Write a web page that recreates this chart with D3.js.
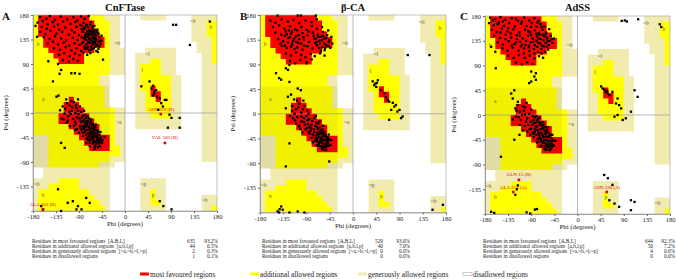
<!DOCTYPE html>
<html><head><meta charset="utf-8">
<script src="https://cdn.jsdelivr.net/npm/d3@7"></script>
<style>body{margin:0;background:#fff}svg{display:block}text{white-space:pre}</style>
</head><body><svg id="c" width="676" height="279"></svg>
<script>
// ---------- DATA ----------
const phiTicks=[-180,-135,-90,-45,0,45,90,135,180];
const psiTicks=[-135,-90,-45,0,45,90,135,180];
const panelTitles=["CnFTase","β-CA","AdSS"];
const panelLetters=["A","B","C"];
const statLabels=["Residues in most favoured regions  [A,B,L]","Residues in additional allowed regions  [a,b,l,p]","Residues in generously allowed regions  [~a,~b,~l,~p]","Residues in disallowed regions"];
const countsA=[635,44,2,1], pctA=["93.2%","6.5%","0.3%","0.1%"];
const countsB=[529,40,0,0], pctB=["93.0%","7.0%","0.0%","0.0%"];
const countsC=[644,50,4,0], pctC=["92.3%","7.2%","0.6%","0.0%"];
const legendLabels=["most favoured regions","additional allowed regions","generously allowed regions","disallowed regions"];

// region outlines (phi, psi)
const coreBeta=[[-170,180],[-70,180],[-70,170],[-60,170],[-60,150],[-50,150],[-50,140],[-40,140],[-40,120],[-60,120],[-60,110],[-80,110],[-80,90],[-130,90],[-130,100],[-140,100],[-140,110],[-150,110],[-150,120],[-160,120],[-160,140],[-170,140]];
const coreAlpha=[[-110,30],[-100,30],[-100,20],[-90,20],[-90,10],[-80,10],[-80,0],[-70,0],[-70,-10],[-60,-10],[-60,-20],[-50,-20],[-50,-40],[-30,-40],[-30,-70],[-70,-70],[-70,-60],[-80,-60],[-80,-50],[-90,-50],[-90,-40],[-100,-40],[-100,-30],[-110,-30],[-110,-20],[-130,-20],[-130,0],[-120,0],[-120,20],[-110,20]];
const coreL=[[50,50],[60,50],[60,40],[70,40],[70,20],[60,20],[60,30],[50,30]];
const allowedMain=[[-180,180],[-40,180],[-40,170],[-30,170],[-30,70],[-50,70],[-50,50],[-40,50],[-40,10],[-20,10],[-20,-60],[-10,-60],[-10,-80],[-30,-80],[-30,-90],[-50,-90],[-50,-100],[-150,-100],[-150,-40],[-180,-40]];
const allowedLow=[[-170,-180],[-170,-140],[-150,-140],[-150,-130],[-130,-130],[-130,-120],[-90,-120],[-90,-140],[-70,-140],[-70,-150],[-60,-150],[-60,-160],[-50,-160],[-50,-170],[-40,-170],[-40,-180]];
const allowedL=[[30,90],[50,90],[50,100],[70,100],[70,70],[90,70],[90,-10],[50,-10],[50,0],[40,0],[40,40],[30,40]];
const allowedP=[[50,-140],[60,-140],[60,-160],[70,-160],[70,-170],[50,-170]];
const allowedRight=[[160,170],[180,170],[180,90],[170,90],[170,140],[160,140]];
const allowedCorner=[[170,-170],[180,-170],[180,-180],[170,-180]];
const generousMain=[[-180,180],[-10,180],[-10,120],[0,120],[0,70],[-30,70],[-30,10],[0,10],[0,-90],[-20,-90],[-20,-100],[-30,-100],[-30,-180],[-180,-180],[-180,-120],[-160,-120],[-160,-100],[-180,-100]];
const generousL=[[20,110],[40,110],[40,120],[100,120],[100,70],[110,70],[110,-30],[20,-30]];
const generousP=[[30,-120],[80,-120],[80,-180],[30,-180]];
const generousTop=[[30,180],[80,180],[80,170],[30,170]];
const generousRight=[[130,180],[180,180],[180,-90],[150,-90],[150,110],[140,110],[140,130],[130,130]];
const generousCorner=[[150,-150],[180,-150],[180,-180],[150,-180]];
const regionLabels=[["B",-162,166],["b",-170,127],["~b",-15,128],["a",-160,26],["~a",-12,-16],["l",34,78],["~l",44,108],["~p",36,-130],["p",55,-150],["~b",133,168],["b",168,157],["~b",-173,-130],["b",-160,-150],["~b",156,-160]];

// residues (phi, psi)
const pointsA=[
[-166,176],[-154,173],[-147,178],[-137,171],[-126,177],[-113,172],[-101,176],[-93,170],[-86,177],[-79,173],[-71,178],
[-171,166],[-161,169],[-151,163],[-141,167],[-131,162],[-121,168],[-107,164],[-97,167],[-88,162],[-81,166],[-74,161],[-67,167],
[-163,158],[-153,155],[-139,159],[-129,153],[-117,157],[-104,152],[-95,158],[-85,154],[-78,157],[-70,152],[-64,158],[-58,153],
[-166,149],[-156,145],[-146,151],[-134,146],[-123,149],[-110,144],[-99,148],[-90,143],[-83,149],[-76,146],[-71,143],[-65,148],[-60,144],[-53,147],
[-159,139],[-147,136],[-137,141],[-125,137],[-115,133],[-102,138],[-93,134],[-85,139],[-79,135],[-73,139],[-67,134],[-62,138],[-56,135],[-50,139],[-46,133],
[-151,128],[-141,131],[-131,126],[-120,129],[-109,124],[-99,128],[-89,125],[-82,130],[-76,126],[-70,129],[-64,125],[-59,129],[-54,124],[-48,127],
[-139,119],[-127,116],[-116,121],[-105,115],[-95,119],[-86,114],[-79,118],[-72,121],[-67,116],[-61,119],[-56,114],
[-129,107],[-119,110],[-108,104],[-98,109],[-89,106],[-81,111],[-74,107],[-68,110],
[-122,97],[-110,94],[-101,99],[-92,96],
[-75,145],[-69,150],[-63,141],[-72,131],[-66,122],[-58,132],[-77,140],[-61,151],[-68,137],[-74,118],[-62,127],[-57,142],
[-84,160],[-80,155],[-76,162],[-72,157],[-68,162],[-64,155],[-60,160],[-56,150],[-52,145],[-82,150],[-78,143],[-74,150],[-70,146],[-66,150],[-62,148],[-58,146],[-54,153],[-80,138],[-76,134],[-72,142],[-68,129],[-64,133],[-60,135],[-56,126],[-52,131],[-50,122],[-84,128],[-80,122],[-76,120],[-70,115],[-64,118],[-58,122],[-52,118],[-48,133],[-46,142],[-66,144],[-62,130],[-70,136],[-74,127],[-58,137],
[-175,160],[-172,140],[-150,95],[-131,90],[-125,79],[-128,72],[-105,73],[-98,73],[-141,58],[-89,72],[-53,112],[-43,98],[-134,30],[-130,32],
[-115,25],[-108,14],[-100,20],[-95,9],[-104,4],[-118,-1],[-111,-6],[-101,-11],[-91,-2],[-96,-20],[-87,-14],[-108,-24],[-98,-31],[-90,-36],[-82,-42],[-76,-55],[-69,-61],[-60,-66],[-49,-61],[-44,-50],[-40,-44],[-124,-10],[-127,5],[-88,12],[-80,4],[-125,-55],[-118,-64],[-113,18],[-92,25],
[-122,12],[-117,8],[-112,-14],[-106,-2],[-103,10],[-98,-16],[-94,-8],[-92,4],[-89,-10],[-86,2],[-96,14],[-109,2],[-114,-18],[-100,-24],[-94,-30],[-87,-28],[-120,-12],[-105,22],[-97,0],[-83,-36],
[-84,-8],[-80,-12],[-76,-9],[-72,-14],[-79,-18],[-74,-20],[-68,-19],[-83,-24],[-77,-26],[-71,-25],[-65,-23],[-60,-27],[-74,-31],[-68,-32],[-62,-33],[-56,-31],[-79,-35],[-72,-37],[-66,-39],[-60,-38],[-54,-37],[-50,-40],[-70,-43],[-64,-45],[-58,-44],[-52,-46],[-47,-45],[-67,-50],[-61,-51],[-55,-52],[-49,-51],[-63,-56],[-57,-58],[-51,-56],[-59,-62],[-53,-63],[-86,-17],[-81,-29],[-75,-47],[-69,-55],[-63,-28],[-57,-21],[-85,-31],[-45,-55],[-48,-35],[-66,-12],[-73,-6],[-88,-24],
[-82,-5],[-78,-4],[-76,-15],[-70,-10],[-82,-15],[-78,-22],[-73,-17],[-69,-28],[-67,-16],[-63,-20],[-61,-24],[-58,-26],[-76,-40],[-73,-44],[-70,-38],[-67,-35],[-64,-41],[-62,-47],[-60,-42],[-57,-36],[-55,-41],[-53,-33],[-51,-49],[-55,-48],[-58,-53],[-62,-54],[-65,-43],[-68,-48],[-72,-50],[-77,-32],[-80,-26],[-74,-24],[-66,-28],[-60,-31],[-54,-44],[-50,-54],[-47,-50],[-56,-56],[-64,-36],[-70,-30],
[32,49],[48,58],[55,50],[58,40],[55,32],[61,42],[62,30],[68,27],[71,18],[78,24],[74,12],[81,24],[87,-3],[91,-9],[84,-27],[107,-9],[107,-27],[65,6],[52,45],[57,36],
[94,162],[100,162],[127,125],[166,168],[68,-162],[75,-171],[91,-177],[-164,-171],[-160,-177],[-131,-140],[-112,-165],[-102,-162],[-92,-171],[-76,-156],[-69,-165],[-85,-177],[-95,-177],[-125,-180]];
const flaggedA=[[70,-2,"ASN 229 (B)"],[78,-55,"VAL 500 (B)"],[-161,-178,"ALA 263 (B)"]];

const pointsB=[
[-146,179],[-107,179],[-101,179],[-72,179],
[-160,170],[-150,166],[-138,172],[-126,168],[-115,171],[-104,165],[-92,170],[-80,167],[-70,172],
[-155,158],[-143,161],[-133,155],[-122,159],[-112,154],[-100,158],[-90,153],[-80,160],[-70,155],[-60,158],
[-150,148],[-139,144],[-130,150],[-120,146],[-110,141],[-98,147],[-88,143],[-78,148],[-68,144],[-58,149],[-50,143],
[-145,136],[-135,132],[-125,138],[-116,133],[-106,129],[-95,135],[-85,131],[-75,137],[-65,133],[-56,137],[-47,131],
[-138,124],[-128,120],[-118,126],[-108,121],[-98,117],[-88,123],[-78,119],[-70,125],[-60,121],[-52,125],[-44,120],
[-130,110],[-120,106],[-110,112],[-100,107],[-92,103],[-82,109],[-74,105],[-64,110],[-55,106],
[-122,96],[-112,92],[-102,98],[-90,94],[-80,99],
[-132,142],[-124,152],[-118,128],[-105,143],[-94,124],[-86,150],[-73,129],[-63,140],[-55,116],[-48,152],[-40,128],[-42,140],[-113,118],[-140,128],
[-128,145],[-122,140],[-118,150],[-114,137],[-110,131],[-126,130],[-120,122],[-132,124],[-108,152],[-104,136],[-100,128],[-96,140],
[-76,142],[-72,136],[-68,140],[-64,128],[-60,134],[-56,128],[-52,138],[-48,124],[-58,142],[-66,120],[-62,115],[-54,120],[-46,134],[-70,131],
[-149,74],[-143,65],[-139,62],[-123,58],[-107,46],[-101,43],[-126,31],[-130,83],[-126,80],[-123,89],[-120,35],[-90,92],
[-114,26],[-104,18],[-96,24],[-110,8],[-100,2],[-122,-4],[-112,-12],[-95,-8],[-104,-22],[-92,-28],[-84,-36],[-78,-52],[-70,-58],[-60,-64],[-48,-58],[-42,-48],[-123,-54],[-104,-23],[-46,-87],[-130,-96],[-118,14],[-88,6],[-130,10],
[-118,5],[-113,0],[-108,-6],[-106,12],[-100,-14],[-97,8],[-93,-20],[-90,-4],[-86,0],[-110,-18],[-116,-8],[-102,-28],[-94,14],[-88,-12],[-108,24],[-98,-34],[-84,-24],[-80,-44],
[-85,-10],[-79,-13],[-75,-8],[-71,-16],[-80,-20],[-73,-22],[-67,-18],[-82,-26],[-76,-28],[-70,-24],[-64,-25],[-59,-29],[-75,-33],[-69,-35],[-61,-32],[-55,-34],[-78,-38],[-71,-40],[-65,-37],[-59,-41],[-53,-39],[-49,-43],[-69,-46],[-63,-48],[-57,-46],[-51,-49],[-46,-47],[-66,-53],[-60,-54],[-54,-55],[-48,-53],[-62,-59],[-56,-61],[-50,-58],[-58,-65],[-52,-66],[-87,-19],[-82,-31],[-74,-49],[-68,-57],[-62,-30],[-58,-22],[-86,-33],[-44,-57],[-47,-38],[-65,-14],[-72,-4],[-89,-26],[-95,-15],[-100,-5],
[-72,-44],[-66,-42],[-62,-44],[-58,-50],[-54,-48],[-50,-52],[-64,-52],[-60,-48],[-56,-56],[-52,-60],[-68,-38],[-62,-36],[-56,-40],[-50,-45],[-70,-50],[-66,-58],[-60,-60],[-54,-62],[-48,-48],[-74,-40],[-58,-36],[-64,-32],[-68,-28],[-52,-42],
[38,59],[41,52],[45,49],[48,61],[46,56],[54,43],[61,37],[67,25],[70,22],[77,20],[80,13],[83,16],[74,7],[86,4],[90,7],[96,-5],[93,-8],[70,-11],[43,55],[64,30],
[106,107],[148,107],[-146,-178],[-142,-174],[-139,-169],[-123,-180],[-107,-178],[-94,-180],[-136,-175],[154,-175],[174,-166],[-143,-180]];
const flaggedB=[];

const pointsC=[
[-170,177],[-160,174],[-150,178],[-140,173],[-128,176],[-116,171],[-104,177],[-94,172],[-84,176],[-76,171],
[-172,167],[-163,163],[-153,168],[-143,162],[-133,167],[-122,161],[-110,166],[-99,162],[-89,167],[-80,161],[-72,165],[-64,161],
[-167,155],[-157,151],[-147,157],[-136,152],[-125,156],[-113,150],[-102,155],[-92,150],[-83,154],[-75,149],[-68,155],[-61,150],[-55,156],
[-162,144],[-151,140],[-140,146],[-129,141],[-118,145],[-107,139],[-96,144],[-87,139],[-79,143],[-72,138],[-65,143],[-59,139],[-52,144],[-46,139],
[-155,132],[-145,128],[-134,134],[-123,129],[-112,133],[-101,127],[-91,132],[-83,127],[-76,131],[-69,126],[-62,131],[-56,127],[-49,131],
[-146,121],[-136,117],[-126,122],[-115,117],[-104,121],[-94,116],[-85,120],[-77,115],[-70,120],[-63,115],[-57,119],
[-135,108],[-124,104],[-114,109],[-103,104],[-93,108],[-84,103],[-75,107],[-67,104],
[-120,95],[-108,92],[-98,96],[-88,93],
[-80,135],[-74,146],[-66,136],[-60,124],[-70,112],[-78,124],[-86,133],[-95,123],[-108,128],[-118,138],[-62,147],[-54,135],
[-165,172],[-155,165],[-145,170],[-135,158],[-120,175],[-108,170],[-96,152],[-90,160],[-78,168],[-70,160],[-140,138],[-130,148],[-120,132],[-110,125],[-100,135],[-90,145],[-80,148],[-72,130],[-66,125],[-58,134],[-50,138],[-104,112],[-94,126],[-84,112],[-76,139],[-68,146],[-60,141],[-112,144],[-128,126],[-150,150],
[-168,124],[-159,85],[-90,79],[-81,76],[-84,70],[-90,61],[-94,58],[-81,64],[-123,45],[-129,39],[-126,30],[-160,115],
[-116,24],[-106,16],[-99,22],[-112,6],[-102,1],[-120,-3],[-110,-9],[-98,-6],[-103,-20],[-93,-26],[-85,-34],[-79,-50],[-72,-57],[-62,-63],[-50,-59],[-43,-47],[-126,-8],[-90,10],[-149,-76],[-123,-45],[-113,-36],[-121,12],
[-119,8],[-114,-4],[-108,0],[-104,8],[-100,-12],[-96,-18],[-94,2],[-91,-12],[-87,-2],[-112,-18],[-106,-28],[-98,-30],[-92,-36],[-116,18],[-102,14],[-85,-40],[-80,-2],
[-86,-9],[-81,-14],[-77,-7],[-72,-15],[-79,-21],[-74,-18],[-68,-21],[-83,-25],[-78,-27],[-72,-26],[-66,-24],[-61,-28],[-76,-32],[-70,-33],[-63,-34],[-57,-32],[-80,-36],[-73,-38],[-67,-40],[-61,-39],[-55,-38],[-51,-42],[-71,-44],[-65,-46],[-59,-45],[-53,-47],[-48,-46],[-68,-51],[-62,-52],[-56,-53],[-50,-52],[-64,-57],[-58,-59],[-52,-57],[-60,-63],[-54,-64],[-88,-18],[-83,-30],[-76,-48],[-70,-56],[-64,-29],[-58,-22],[-87,-32],[-46,-56],[-49,-36],[-67,-13],[-74,-5],[-90,-25],
[-83,-4],[-79,-10],[-75,-13],[-70,-19],[-66,-18],[-62,-22],[-60,-33],[-57,-40],[-53,-36],[-64,-40],[-68,-36],[-72,-32],[-74,-42],[-70,-48],[-66,-50],[-62,-46],[-58,-48],[-54,-52],[-50,-48],[-56,-58],[-60,-55],[-64,-62],[-52,-62],[-48,-55],[-78,-44],[-81,-20],[-85,-14],[-69,-25],[-75,-37],[-59,-27],
[46,52],[49,48],[55,42],[59,39],[62,36],[68,42],[78,30],[75,21],[81,18],[85,12],[78,0],[72,-3],[104,6],[111,45],[117,33],[94,-6],[88,-9],[52,46],[58,44],
[86,171],[92,172],[96,170],[118,174],[160,165],[163,160],[52,-109],[59,-115],[68,-127],[62,-155],[72,-161],[81,-167],[104,-173],[104,-155],[111,-158],
[-168,-176],[-162,-178],[-99,-177],[-92,-179],[-83,-172],[-79,-171],[-118,-135],[-116,-128],[-121,-145]];
const flaggedC=[[-114,-118,"GLN 15 (B)"],[-125,-140,"ALA 259 (A)"],[57,-140,"ASN 236 (A)"]];

// ---------- DRAW ----------
const svg=d3.select("#c");
const SERIF="'Liberation Serif','Times New Roman',serif";
const PALE="#f1ebb0", YEL="#ffff00", RED="#ff0000";
const panels=[
 {x0:33,x1:217,y0:15,y1:211,pts:pointsA,flag:flaggedA,counts:countsA,pct:pctA,tx:32,cx:195,px:218,psiX:6,letterX:2,hide:[]},
 {x0:260,x1:446,y0:15,y1:212.5,pts:pointsB,flag:flaggedB,counts:countsB,pct:pctB,tx:262,cx:383,px:410,psiX:233,letterX:240,hide:[]},
 {x0:485,x1:670,y0:16,y1:214,pts:pointsC,flag:flaggedC,counts:countsC,pct:pctC,tx:483,cx:653,px:675,psiX:454,letterX:460,hide:[7]}
];
panels.forEach((p,i)=>{
  const x=d3.scaleLinear().domain([-180,180]).range([p.x0,p.x1]);
  const y=d3.scaleLinear().domain([-180,180]).range([p.y1,p.y0]);
  const g=svg.append("g");
  const poly=(pts,fill)=>g.append("path").attr("d","M"+pts.map(q=>x(q[0])+","+y(q[1])).join("L")+"Z").attr("fill",fill);
  [generousMain,generousL,generousP,generousTop,generousRight,generousCorner].forEach(r=>poly(r,PALE));
  [allowedMain,allowedLow,allowedL,allowedP,allowedRight,allowedCorner].forEach(r=>poly(r,YEL));
  [coreBeta,coreAlpha,coreL].forEach(r=>poly(r,RED));
  g.append("rect").attr("x",x(-180)).attr("y",y(50)).attr("width",x(-30)-x(-180)).attr("height",y(-100)-y(50)).attr("fill","#000").attr("opacity",0.06);
  g.append("line").attr("x1",x(0)).attr("x2",x(0)).attr("y1",y(180)).attr("y2",y(-180)).attr("stroke","#999").attr("stroke-width",0.7);
  g.append("line").attr("x1",x(-180)).attr("x2",x(180)).attr("y1",y(0)).attr("y2",y(0)).attr("stroke","#999").attr("stroke-width",0.7);
  g.selectAll(".rl").data(regionLabels.filter((d,k)=>!p.hide.includes(k))).join("text").attr("x",d=>x(d[1])).attr("y",d=>y(d[2])).attr("text-anchor","middle").attr("dy","0.35em")
    .attr("font-family",SERIF).attr("font-size",5.5).attr("fill","#555").text(d=>d[0]);
  g.append("rect").attr("x",p.x0).attr("y",p.y0).attr("width",p.x1-p.x0).attr("height",p.y1-p.y0).attr("fill","none").attr("stroke","#aaa").attr("stroke-width",0.7);
  const ax=g.append("g").attr("transform",`translate(0,${p.y1})`).call(d3.axisBottom(x).tickValues(phiTicks).tickSize(2).tickPadding(1.5).tickFormat(d=>String(d)));
  const ay=g.append("g").attr("transform",`translate(${p.x0},0)`).call(d3.axisLeft(y).tickValues(psiTicks).tickSize(2).tickPadding(2).tickFormat(d=>String(d)));
  [ax,ay].forEach(a=>{a.select(".domain").attr("stroke","#888").attr("stroke-width",0.7);a.selectAll("line").attr("stroke","#666");
    a.selectAll("text").attr("font-family",SERIF).attr("font-size",6.5).attr("fill","#222");});
  g.selectAll(".pt").data(p.pts).join("rect").attr("x",d=>x(d[0])-1.15).attr("y",d=>y(d[1])-1.15).attr("width",2.3).attr("height",2.3).attr("fill","#000");
  g.selectAll(".fl").data(p.flag).join("rect").attr("x",d=>x(d[0])-1.3).attr("y",d=>y(d[1])-1.3).attr("width",2.6).attr("height",2.6).attr("fill","#e00000");
  g.selectAll(".flt").data(p.flag).join("text").attr("x",d=>x(d[0])).attr("y",d=>y(d[1])-3.5).attr("text-anchor","middle")
    .attr("font-family",SERIF).attr("font-size",5).attr("fill","#e00000").text(d=>d[2]);
  svg.append("text").attr("x",(p.x0+p.x1)/2).attr("y",10.5).attr("text-anchor","middle").attr("font-family",SERIF).attr("font-weight","bold").attr("font-size",10.5).attr("fill","#111").text(panelTitles[i]);
  svg.append("text").attr("x",p.letterX).attr("y",20).attr("font-family",SERIF).attr("font-weight","bold").attr("font-size",11).attr("fill","#111").text(panelLetters[i]);
  svg.append("text").attr("x",(p.x0+p.x1)/2).attr("y",p.y1+15).attr("text-anchor","middle").attr("font-family",SERIF).attr("font-size",6.8).attr("fill","#222").text("Phi (degrees)");
  svg.append("text").attr("transform",`translate(${p.psiX+2.4},${(p.y0+p.y1)/2}) rotate(-90)`).attr("text-anchor","middle").attr("font-family",SERIF).attr("font-size",6.8).attr("fill","#222").text("Psi (degrees)");
  const tb=svg.append("g").attr("font-family",SERIF).attr("font-size",5.3).attr("fill","#222");
  statLabels.forEach((s,k)=>{
    const yy=242.5+k*5.1;
    tb.append("text").attr("x",p.tx).attr("y",yy).text(s);
    tb.append("text").attr("x",p.cx).attr("y",yy).attr("text-anchor","end").text(p.counts[k]);
    tb.append("text").attr("x",p.px).attr("y",yy).attr("text-anchor","end").text(p.pct[k]);
  });
});
const legX=[140,250,358,463], legFill=[RED,YEL,PALE,"#fff"];
const lg=svg.append("g");
legendLabels.forEach((s,k)=>{
  lg.append("rect").attr("x",legX[k]).attr("y",272.5).attr("width",9).attr("height",3).attr("fill",legFill[k]).attr("stroke",k===3?"#999":"none").attr("stroke-width",0.5);
  lg.append("text").attr("x",legX[k]+10).attr("y",276.5).attr("font-family",SERIF).attr("font-size",7.3).attr("fill","#222").text(s);
});
</script></body></html>
